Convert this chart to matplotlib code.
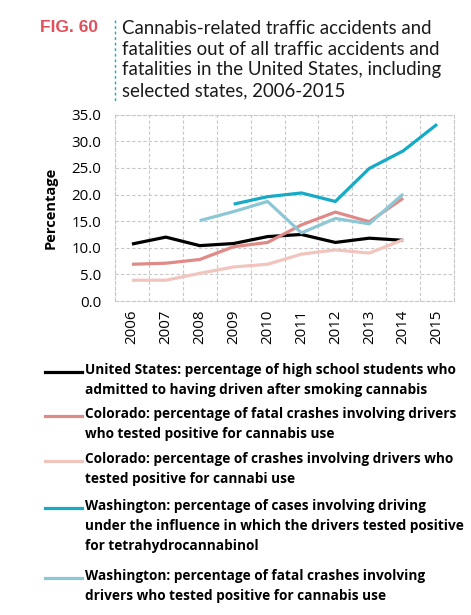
import numpy as np
import matplotlib.pyplot as plt
from matplotlib.lines import Line2D

years = ["2006", "2007", "2008", "2009", "2010", "2011", "2012", "2013", "2014", "2015"]

us_students = [10.7, 12.0, 10.4, 10.8, 12.1, 12.5, 11.0, 11.8, 11.4, None]
co_fatal = [6.9, 7.1, 7.8, 10.2, 11.0, 14.3, 16.7, 14.9, 19.3, None]
co_crashes = [3.9, 3.9, 5.2, 6.4, 6.9, 8.8, 9.6, 9.0, 11.5, None]
wa_dui = [None, None, None, 18.2, 19.6, 20.3, 18.7, 24.9, 28.2, 33.2]
wa_fatal = [None, None, 15.1, 16.8, 18.7, 12.8, 15.5, 14.5, 20.1, None]

labels = [
    "United States: percentage of high school students who\nadmitted to having driven after smoking cannabis",
    "Colorado: percentage of fatal crashes involving drivers\nwho tested positive for cannabis use",
    "Colorado: percentage of crashes involving drivers who\ntested positive for cannabi use",
    "Washington: percentage of cases involving driving\nunder the influence in which the drivers tested positive\nfor tetrahydrocannabinol",
    "Washington: percentage of fatal crashes involving\ndrivers who tested positive for cannabis use",
]
colors = ["#000000", "#E08A88", "#F2C4BE", "#15ABC6", "#8DC7D5"]
series = [us_students, co_fatal, co_crashes, wa_dui, wa_fatal]

W, H = 471, 615
fig = plt.figure(figsize=(W / 100, H / 100), dpi=100)
ax = fig.add_axes([115 / W, 1 - 301 / H, (454 - 115) / W, (301 - 114.7) / H])

x = np.arange(len(years))
for vals, c in zip(series, colors):
    y = np.array([np.nan if v is None else v for v in vals], dtype=float)
    ax.plot(x, y, color=c, lw=2.3, solid_capstyle="butt")

ax.set_xlim(-0.5, len(years) - 0.5)
ax.set_ylim(0, 35)
ax.set_yticks(np.arange(0, 35.1, 5))
ax.set_yticklabels([f"{v:.1f}" for v in np.arange(0, 35.1, 5)])
ax.set_xticks(x)
ax.set_xticklabels(years, rotation=90)
ax.set_xticks(np.arange(-0.5, len(years), 1), minor=True)
ax.tick_params(which="both", length=0, labelsize=10.8, pad=6)
ax.tick_params(axis="y", pad=10)
for t in ax.get_xticklabels() + ax.get_yticklabels():
    t.set_fontfamily("Open Sans")
ax.grid(axis="y", which="major", color="#c8c8c8", ls=(0, (3, 2)), lw=0.8)
ax.grid(axis="x", which="minor", color="#c8c8c8", ls=(0, (3, 2)), lw=0.8)
for s in ax.spines.values():
    s.set_color("#c8c8c8")
    s.set_linestyle((0, (3, 2)))
    s.set_linewidth(0.8)
ax.set_ylabel("Percentage", fontsize=10.5, fontweight="bold", fontfamily="Open Sans", labelpad=10)

# title
fig.text(40 / W, 1 - 28 / H, "FIG. 60", color="#E0505A", fontsize=12.5, fontweight="bold",
         fontfamily="Liberation Sans", va="center", ha="left")
fig.add_artist(Line2D([115 / W, 115 / W], [1 - 20 / H, 1 - 101 / H], color="#15ABC6",
                      lw=1, ls=(0, (2, 2))))
fig.text(122 / W, 1 - 20 / H,
         "Cannabis-related traffic accidents and\nfatalities out of all traffic accidents and\nfatalities in the United States, including\nselected states, 2006-2015",
         fontsize=13.4, fontfamily="Lato", color="#1a1a1a", va="top", ha="left", linespacing=1.26)

# legend
tops = [372, 416, 461, 508, 578]
for lab, c, ty in zip(labels, colors, tops):
    fig.add_artist(Line2D([45 / W, 82 / W], [1 - ty / H, 1 - ty / H], color=c, lw=2.3))
    fig.text(85 / W, 1 - (ty - 9) / H, lab, fontsize=9.8, fontweight="bold", fontfamily="Open Sans",
             va="top", ha="left", linespacing=1.55)

fig.savefig("out.png", dpi=100)
